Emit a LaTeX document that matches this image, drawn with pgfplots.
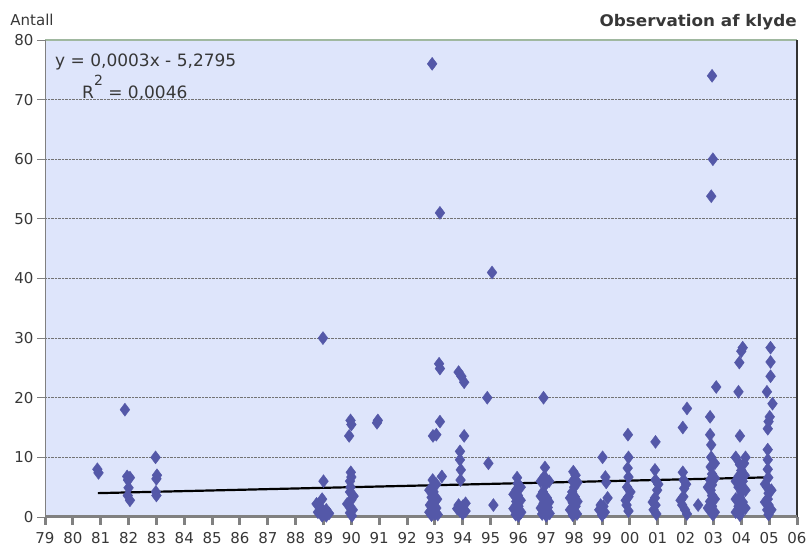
\documentclass[border=0pt]{standalone}
\usepackage{pgfplots}
\pgfplotsset{compat=1.18}
\usepackage{fontspec}
\setmainfont{DejaVu Sans}
\definecolor{bgc}{RGB}{222,229,251}
\definecolor{mk}{RGB}{84,88,168}
\definecolor{tk}{RGB}{55,55,55}
\definecolor{topc}{RGB}{160,184,160}
\pgfplotstableread{
x y
1980.88 8.0
1980.92 7.4
1981.87 18.0
1981.95 6.8
1982.05 6.6
1981.98 6.2
1982.00 4.9
1981.97 3.6
1982.05 2.8
1982.97 10.0
1983.02 7.0
1983.00 6.4
1982.98 4.2
1983.00 3.6
1988.98 30.0
1989.00 6.0
1988.95 3.0
1988.75 2.2
1988.90 1.6
1989.10 1.2
1988.80 0.8
1989.00 0.5
1989.20 0.6
1988.95 0.2
1989.10 0.2
1989.97 16.2
1990.00 15.5
1989.92 13.6
1989.98 7.5
1990.00 6.7
1989.95 6.0
1989.97 5.0
1989.95 4.2
1990.00 2.9
1989.95 1.7
1990.05 1.2
1989.95 0.7
1990.02 0.2
1990.08 3.5
1989.85 2.2
1990.92 15.8
1990.95 16.2
1992.90 76.0
1993.18 51.0
1993.15 25.7
1993.18 24.9
1993.18 16.0
1992.93 13.6
1993.05 13.8
1993.25 6.8
1992.92 6.2
1992.90 5.0
1992.95 4.2
1992.88 3.3
1992.98 2.5
1992.90 1.8
1992.95 1.0
1993.00 0.5
1992.88 0.3
1993.05 5.5
1992.80 4.5
1993.08 3.0
1992.82 2.0
1993.05 1.5
1992.80 0.8
1993.10 0.4
1993.85 24.3
1993.95 23.6
1994.05 22.6
1994.05 13.6
1993.90 11.0
1993.90 9.6
1993.93 7.9
1993.92 6.2
1993.85 2.0
1994.00 1.8
1994.10 2.3
1993.90 1.0
1994.00 0.6
1994.10 1.0
1993.80 1.4
1995.05 41.0
1994.88 20.0
1994.92 9.0
1995.10 2.0
1995.95 6.6
1995.97 5.6
1995.93 4.6
1995.98 3.6
1995.92 2.6
1996.00 1.8
1995.95 1.0
1995.90 0.4
1996.00 0.2
1996.08 5.0
1995.82 3.8
1996.08 2.8
1995.82 1.4
1996.10 0.8
1996.90 20.0
1996.95 8.3
1996.93 6.8
1996.98 5.5
1996.88 4.2
1997.02 3.2
1996.90 2.3
1997.05 1.6
1996.95 1.0
1996.85 0.5
1997.00 0.2
1997.10 6.0
1996.80 3.5
1997.10 2.5
1996.80 1.5
1997.12 0.6
1996.80 6.0
1997.97 7.6
1998.05 7.0
1997.95 6.0
1998.00 5.0
1997.93 4.2
1998.02 3.4
1997.95 2.4
1998.05 1.8
1998.00 1.0
1997.95 0.3
1998.12 5.8
1997.85 3.2
1998.12 2.6
1997.85 1.2
1998.10 0.5
1999.02 10.0
1999.12 6.7
1999.15 5.8
1999.20 3.2
1998.95 2.0
1999.05 1.8
1998.90 1.2
1999.10 0.8
1999.00 0.3
1999.93 13.8
1999.95 10.0
1999.92 8.2
1999.95 6.7
1999.90 5.0
1999.95 3.4
1999.88 2.0
1999.95 1.0
2000.02 4.2
1999.85 2.8
2000.92 12.6
2000.90 7.9
2000.92 6.2
2000.98 4.5
2000.90 3.2
2000.92 2.0
2000.85 1.2
2000.95 0.5
2001.02 5.5
2000.82 2.5
2002.05 18.2
2001.90 15.0
2001.90 7.5
2001.93 6.2
2001.95 4.8
2001.92 3.4
2001.88 2.0
2001.98 1.2
2002.45 2.0
2002.02 5.5
2001.82 2.8
2002.05 0.5
2002.95 74.0
2002.98 60.0
2002.92 53.8
2003.10 21.8
2002.88 16.8
2002.88 13.8
2002.92 12.1
2002.92 10.0
2002.90 8.4
2002.95 7.2
2002.88 6.2
2002.95 5.4
2002.90 4.5
2002.95 3.6
2002.88 2.6
2002.95 1.8
2002.90 1.0
2002.98 0.4
2003.05 6.5
2002.80 5.0
2003.05 3.0
2002.80 1.5
2003.05 0.8
2003.05 9.0
2004.05 28.4
2004.00 27.8
2003.93 25.9
2003.90 21.0
2003.95 13.6
2003.80 10.0
2004.15 10.0
2003.95 8.8
2004.00 7.8
2003.90 6.8
2004.05 6.0
2003.90 5.0
2004.00 4.2
2003.95 3.3
2004.05 2.5
2003.90 1.8
2004.00 1.0
2003.95 0.3
2004.12 7.0
2003.80 6.0
2004.15 4.5
2003.80 3.0
2004.15 1.5
2003.80 0.8
2004.10 9.0
2005.05 28.4
2005.05 26.0
2005.05 23.6
2004.92 21.0
2005.12 19.0
2005.02 16.8
2004.98 16.0
2004.95 14.8
2004.95 11.3
2004.95 9.6
2004.95 8.0
2004.97 6.6
2004.93 5.0
2004.98 4.0
2004.95 3.0
2004.98 2.0
2004.93 1.2
2004.98 0.4
2004.85 5.5
2005.08 4.5
2004.85 2.5
2005.08 1.2
}\obs
\begin{document}
\begin{tikzpicture}
\begin{axis}[name=ax, width=752pt, height=477pt, scale only axis,
  xmin=1979, xmax=2006, ymin=0, ymax=80,
  axis background/.style={fill=bgc},
  axis line style={draw=none},
  xtick={1979,1980,...,2006},
  xticklabels={79,80,81,82,83,84,85,86,87,88,89,90,91,92,93,94,95,96,97,98,99,00,01,02,03,04,05,06},
  ytick={0,10,...,80},
  yticklabels={0,10,20,30,40,50,60,70,80},
  tick pos=left, tick align=outside,
  major tick length=8pt,
  x tick style={gray, line width=3pt},
  y tick style={gray, line width=0.8pt},
  ymajorgrids, major grid style={gray!90!black, densely dotted, line width=0.8pt},
  ticklabel style={font=\fontsize{15}{15}\selectfont, text=tk},
  xticklabel style={yshift=-4pt},
  clip=false,
]
\draw[topc, line width=1.5pt] (rel axis cs:0,1) -- (rel axis cs:1,1);
\draw[black!80, line width=1.5pt] (rel axis cs:1,0) -- (rel axis cs:1,1);
\draw[gray, line width=1pt] (rel axis cs:0,0) -- (rel axis cs:0,1);
\addplot[only marks, mark=diamond*, mark size=6.5pt, mk, mark options={draw=mk, fill=mk}] table[x=x,y=y] {\obs};
\addplot[black, line width=2.2pt] coordinates {(1980.9,4.0) (2004.96,6.65)};
\draw[gray, line width=3pt] (rel axis cs:0,0) -- (rel axis cs:1,0);
\end{axis}
\node[anchor=center, text=tk, font=\fontsize{15}{15}\selectfont] at ([xshift=-13pt,yshift=20pt]ax.north west) {Antall};
\node[anchor=east, inner sep=0pt, text=tk, font=\bfseries\fontsize{16}{16}\selectfont, xscale=1.05] at ([yshift=18pt]ax.north east) {Observation af klyde};
\node[anchor=west, inner sep=0pt, text=tk, font=\fontsize{17}{17}\selectfont] at ([xshift=10pt,yshift=-22pt]ax.north west) {y = 0,0003x - 5,2795};
\node[anchor=west, inner sep=0pt, text=tk, font=\fontsize{17}{17}\selectfont] at ([xshift=37pt,yshift=-48pt]ax.north west) {R\raisebox{1.4ex}{\fontsize{14}{14}\selectfont 2} = 0,0046};
\pgfresetboundingbox
\path ([xshift=-45pt,yshift=-32pt]ax.south west) rectangle ([xshift=14pt,yshift=40pt]ax.north east);
\end{tikzpicture}
\end{document}
